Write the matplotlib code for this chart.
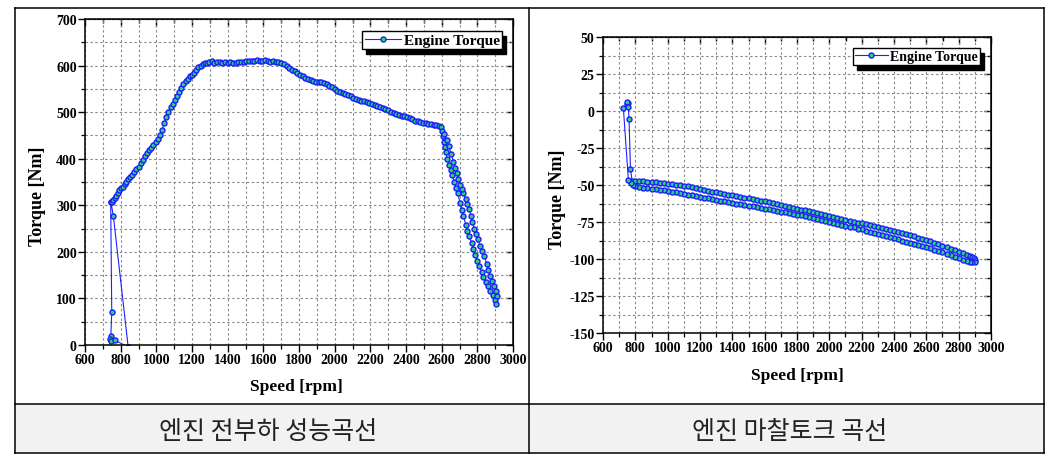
import matplotlib
matplotlib.use("Agg")
import matplotlib.pyplot as plt
from matplotlib.lines import Line2D
from matplotlib.patches import Rectangle
from matplotlib.ticker import MultipleLocator, FuncFormatter

# ---- full load torque curve (speed rpm, torque Nm) ----
full_speed = [744, 750, 745, 742, 748, 768, 842, 759, 746,
              750, 758, 766, 775, 784, 793, 802, 812, 822, 832, 843, 854, 865, 876, 888,
              900, 912, 924, 936, 948, 960, 972, 984, 996, 1008, 1020, 1032, 1044, 1056,
              1068, 1080, 1092, 1104, 1116, 1128, 1140, 1152, 1164, 1176, 1188, 1200,
              1212, 1224, 1236, 1248, 1260, 1272, 1284, 1296, 1310, 1325, 1340, 1355,
              1370, 1385, 1400, 1415, 1430, 1445, 1460, 1475, 1490, 1505, 1520, 1535,
              1550, 1565, 1580, 1595, 1610, 1625, 1640, 1655, 1670, 1685, 1700, 1715,
              1730, 1745, 1760, 1775, 1790, 1805, 1820, 1835, 1850, 1865, 1880, 1895,
              1910, 1925, 1940, 1955, 1970, 1985, 2000, 2015, 2030, 2045, 2060, 2075,
              2090, 2105, 2120, 2135, 2150, 2165, 2180, 2195, 2210, 2225, 2240, 2255,
              2270, 2285, 2300, 2315, 2330, 2345, 2360, 2375, 2390, 2405, 2420, 2435,
              2450, 2465, 2480, 2495, 2510, 2525, 2540, 2555, 2570, 2585, 2595,
              2602, 2606, 2612, 2618, 2625,
              2630, 2643, 2651, 2660, 2671, 2681, 2690, 2703, 2714, 2722, 2735, 2744,
              2755, 2768, 2778, 2789, 2800, 2811, 2825, 2834, 2847, 2858, 2871, 2886,
              2899, 2905,
              2909, 2905, 2893, 2880, 2871, 2862, 2852, 2839, 2828, 2815, 2802, 2793,
              2783, 2772, 2763, 2755, 2744, 2735, 2722, 2712, 2703, 2694, 2684, 2675,
              2665, 2653, 2640, 2628, 2615]
full_torque = [306, 70, 20, 12, 8, 10, -4, 277, 306,
               308, 312, 316, 320, 326, 333, 337, 340, 345, 350, 356, 360, 366, 371, 377,
               383, 390, 398, 405, 412, 418, 423, 429, 435, 442, 450, 462, 476, 490,
               501, 510, 518, 526, 535, 544, 552, 560, 566, 572, 577, 580,
               585, 590, 596, 600, 603, 605, 606, 607, 609, 606, 607, 608,
               606, 607, 605, 607, 606, 605, 608, 607, 607, 609, 610, 609,
               610, 611, 609, 610, 611, 609, 608, 609, 608, 607, 606, 603,
               599, 595, 591, 588, 584, 580, 577, 574, 571, 569, 567, 565,
               564, 565, 563, 560, 557, 553, 549, 546, 543, 541, 538, 536,
               534, 531, 529, 527, 525, 523, 521, 519, 517, 515, 513, 511,
               509, 507, 505, 501, 498, 496, 494, 492, 491, 489, 487, 485,
               482, 480, 478, 477, 476, 475, 474, 473, 472, 470, 468,
               460, 448, 436, 425, 414,
               399, 386, 376, 364, 349, 338, 326, 305, 290, 278, 258, 245,
               233, 219, 207, 193, 181, 170, 156, 145, 135, 126, 117, 108,
               97, 87,
               106, 117, 127, 138, 149, 160, 174, 192, 202, 213, 228, 238,
               249, 265, 278, 292, 303, 313, 326, 336, 344, 356, 369, 381,
               394, 410, 428, 440, 452]

# ---- motoring (friction) torque curve ----
fric_speed = [747, 753, 750, 757, 761, 770,
              780, 800, 825, 850, 875, 900, 925, 950, 975, 1000, 1025, 1050, 1075, 1100,
              1125, 1150, 1175, 1200, 1225, 1250, 1275, 1300, 1325, 1350, 1375, 1400,
              1425, 1450, 1475, 1500, 1525, 1550, 1575, 1600, 1625, 1650, 1675, 1700,
              1725, 1750, 1775, 1800, 1825, 1850, 1875, 1900, 1925, 1950, 1975, 2000,
              2025, 2050, 2075, 2100, 2125, 2150, 2175, 2200, 2225, 2250, 2275, 2300,
              2325, 2350, 2375, 2400, 2425, 2450, 2475, 2500, 2525, 2550, 2575, 2600,
              2625, 2650, 2675, 2700, 2725, 2750, 2775, 2800, 2825, 2850, 2870, 2885,
              2895, 2902,
              2898, 2885, 2870, 2850, 2825, 2800, 2775, 2750, 2725, 2700, 2675, 2650,
              2625, 2600, 2575, 2550, 2525, 2500, 2475, 2450, 2425, 2400, 2375, 2350,
              2325, 2300, 2275, 2250, 2225, 2200, 2175, 2150, 2125, 2100, 2075, 2050,
              2025, 2000, 1975, 1950, 1925, 1900, 1875, 1850, 1825, 1800, 1775, 1750,
              1725, 1700, 1675, 1650, 1625, 1600, 1575, 1550, 1525, 1500, 1475, 1450,
              1425, 1400, 1375, 1350, 1325, 1300, 1275, 1250, 1225, 1200, 1175, 1150,
              1125, 1100, 1075, 1050, 1025, 1000, 975, 950, 925, 900, 875, 850, 825,
              800, 785, 772, 757, 726]
fric_torque = [4.7, 5.4, 6.0, 2.5, -5.4, -39.5,
               -47.0, -47.2, -47.5, -47.6, -47.8, -48.0, -48.2, -48.5, -48.7, -49.0,
               -49.3, -49.7, -50.1, -50.5, -51.0, -51.5, -52.0, -52.6, -53.2, -53.8,
               -54.4, -55.0, -55.5, -56.0, -56.5, -57.0, -57.4, -57.9, -58.5, -59.0,
               -59.5, -60.0, -60.5, -61.0, -61.6, -62.2, -62.9, -63.5, -64.1, -64.7,
               -65.4, -66.0, -66.6, -67.2, -67.9, -68.5, -69.1, -69.7, -70.3, -71.0,
               -71.6, -72.2, -72.9, -73.5, -74.1, -74.7, -75.4, -76.0, -76.6, -77.2,
               -77.9, -78.5, -79.1, -79.7, -80.4, -81.0, -81.7, -82.4, -83.2, -84.0,
               -84.7, -85.5, -86.2, -87.0, -88.0, -89.0, -90.0, -91.0, -92.0, -93.0,
               -94.0, -95.0, -96.0, -97.0, -97.8, -98.5, -99.3, -100.5,
               -102.0, -102.3, -102.0, -101.3, -100.4, -99.5, -98.5, -97.5, -96.5,
               -95.6, -94.7, -93.8, -92.9, -92.0, -91.2, -90.5, -89.7, -89.0, -88.2,
               -87.5, -86.7, -86.0, -85.2, -84.5, -83.7, -83.0, -82.3, -81.5, -80.8,
               -80.0, -79.4, -78.7, -78.1, -77.5, -76.9, -76.2, -75.6, -75.0, -74.4,
               -73.7, -73.1, -72.5, -71.9, -71.2, -70.6, -70.0, -69.5, -69.0, -68.5,
               -68.0, -67.5, -67.0, -66.5, -66.0, -65.5, -65.0, -64.5, -64.0, -63.5,
               -63.0, -62.5, -62.0, -61.5, -61.0, -60.5, -60.0, -59.5, -59.0, -58.5,
               -58.0, -57.5, -57.0, -56.5, -56.0, -55.5, -55.0, -54.5, -54.0, -53.6,
               -53.2, -52.9, -52.5, -52.1, -51.7, -51.3, -51.0, -50.2, -48.5, -46.6, 2.0]

captions = ["엔진 전부하 성능곡선", "엔진 마찰토크 곡선"]
legend_label = "Engine Torque"

W, H = 1059, 464
plt.rcParams["font.family"] = ["Liberation Serif", "DejaVu Serif"]
plt.rcParams["font.weight"] = "bold"

fig = plt.figure(figsize=(W / 100, H / 100), dpi=100)


def px_axes(l, t, r, b):
    return fig.add_axes([l / W, 1 - b / H, (r - l) / W, (b - t) / H])


line_kw = dict(color="#2020ff", lw=0.8, marker="o", ms=3.6, mew=1.0,
               mec="#1c1cff", mfc="#2fd07a")


def style_axes(ax, xmaj, xmin, ymaj, ymin):
    ax.xaxis.set_major_locator(MultipleLocator(xmaj))
    ax.xaxis.set_minor_locator(MultipleLocator(xmin))
    ax.yaxis.set_major_locator(MultipleLocator(ymaj))
    ax.yaxis.set_minor_locator(MultipleLocator(ymin))
    fmt = FuncFormatter(lambda v, p: ("%g" % v).replace("\u2212", "-"))
    ax.xaxis.set_major_formatter(fmt)
    ax.yaxis.set_major_formatter(fmt)
    ax.grid(True, which="both", color="#8a8a8a", lw=0.8, ls=(0, (2.2, 2.2)))
    ax.set_axisbelow(True)
    for s in ax.spines.values():
        s.set_linewidth(1.1)
    ax.tick_params(which="major", direction="out", length=5, width=1.0,
                   labelsize=10, pad=1)
    ax.tick_params(which="minor", direction="out", length=3, width=0.9)
    for lab in ax.get_xticklabels() + ax.get_yticklabels():
        lab.set_fontweight("bold")
    top = ax.secondary_xaxis("top")
    top.xaxis.set_major_locator(MultipleLocator(xmaj))
    top.xaxis.set_minor_locator(MultipleLocator(xmin))
    top.tick_params(which="both", direction="in", labeltop=False, width=1.0)
    top.tick_params(which="major", length=5)
    top.tick_params(which="minor", length=3)
    right = ax.secondary_yaxis("right")
    right.yaxis.set_major_locator(MultipleLocator(ymaj))
    right.yaxis.set_minor_locator(MultipleLocator(ymin))
    right.tick_params(which="both", direction="in", labelright=False, width=1.0)
    right.tick_params(which="major", length=5)
    right.tick_params(which="minor", length=3)


# ---- left chart ----
ax1 = px_axes(85, 20, 513, 346)
ax1.plot(full_speed, full_torque, label=legend_label, **line_kw)
ax1.set_xlim(600, 3000)
ax1.set_ylim(0, 700)
style_axes(ax1, 200, 100, 100, 50)
fig.text(37 / W, 1 - 196 / H, "Torque [Nm]", rotation=90, ha="center", va="center",
         fontsize=13, fontweight="bold")
fig.text(296 / W, 1 - 387 / H, "Speed [rpm]", ha="center", va="center",
         fontsize=12.5, fontweight="bold")

# ---- right chart ----
ax2 = px_axes(603, 38, 991, 334)
ax2.plot(fric_speed, fric_torque, label=legend_label, **line_kw)
ax2.set_xlim(600, 3000)
ax2.set_ylim(-150, 50)
style_axes(ax2, 200, 100, 25, 12.5)
fig.text(557 / W, 1 - 199 / H, "Torque [Nm]", rotation=90, ha="center", va="center",
         fontsize=13, fontweight="bold")
fig.text(797 / W, 1 - 376 / H, "Speed [rpm]", ha="center", va="center",
         fontsize=12.5, fontweight="bold")

# ---- legends with hard black shadow ----
legends = []
for ax, (rx, ty), fs in [(ax1, (502, 32), 11), (ax2, (980, 49), 10)]:
    leg = ax.legend(loc="upper right", bbox_to_anchor=(rx / W, 1 - ty / H),
                    bbox_transform=fig.transFigure, borderaxespad=0, fancybox=False,
                    framealpha=1, edgecolor="black", borderpad=0.15,
                    handlelength=2.4, handletextpad=0.15,
                    prop={"weight": "bold", "size": fs})
    leg.get_frame().set_linewidth(1.0)
    legends.append((ax, leg))

fig.canvas.draw()
for ax, leg in legends:
    bb = leg.get_window_extent()
    ax.add_patch(Rectangle((bb.x0 + 4, bb.y0 - 5), bb.width, bb.height,
                           transform=None, color="black", zorder=4.9, clip_on=False))

# ---- table frame and caption row ----
fig.patches.append(Rectangle((15, H - 454), 1044 - 15, 49, transform=None,
                             facecolor="#f2f2f2", edgecolor="none", zorder=-5))


def hline(x0, x1, y):
    fig.add_artist(Line2D([x0, x1], [H - y, H - y], transform=None, color="black", lw=1.1))


def vline(x, y0, y1):
    fig.add_artist(Line2D([x, x], [H - y0, H - y1], transform=None, color="black", lw=1.1))


hline(15, 1044, 9)
hline(15, 1044, 405)
hline(15, 1044, 454)
vline(15, 9, 454)
vline(529, 9, 454)
vline(1044, 9, 454)

for cx, text in zip([268, 790], captions):
    fig.text(cx / W, 1 - 432 / H, text, ha="center", va="center", fontsize=18,
             fontweight="light", color="#222222",
             family=["Noto Sans CJK KR", "DejaVu Sans"])

fig.savefig("out.png", dpi=100)
